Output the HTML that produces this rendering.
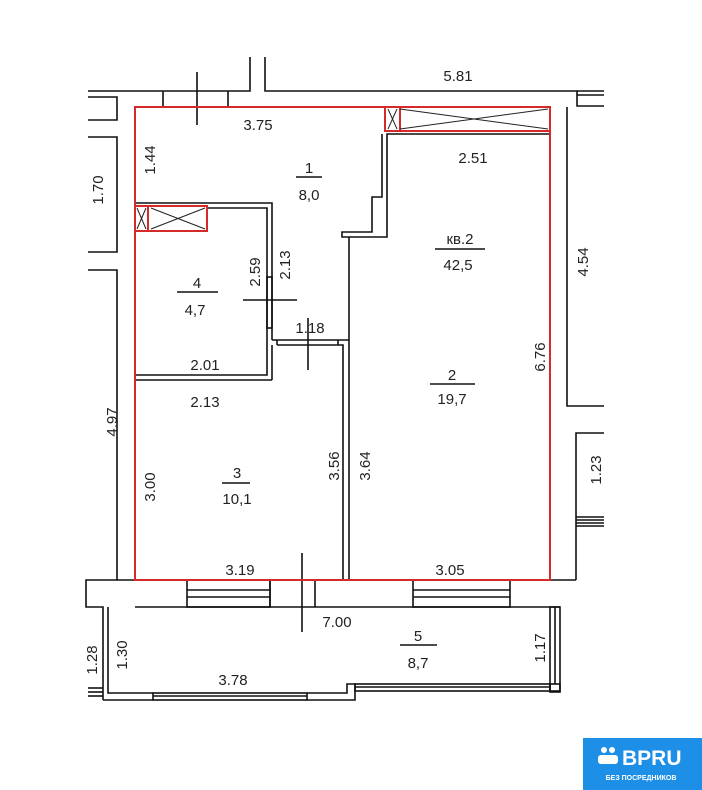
<!DOCTYPE html>
<html><head><meta charset="utf-8"><style>
html,body{margin:0;padding:0;background:#fff;width:702px;height:790px;overflow:hidden}
svg{display:block}
text{font-family:"Liberation Sans",Arial,sans-serif;font-size:15px;fill:#222}
</style></head><body>
<svg width="702" height="790" viewBox="0 0 702 790" xmlns="http://www.w3.org/2000/svg">
<g stroke="#111" stroke-width="1.6" fill="none">
<polyline points="88,91 250,91 250,57"/>
<polyline points="265,57 265,91 577,91 577,106 604,106"/>
<line x1="577" y1="95" x2="604" y2="95"/>
<line x1="577" y1="91" x2="604" y2="91"/>
<polyline points="88,97 117,97 117,120 88,120"/>
<polyline points="88,137 117,137 117,252 88,252"/>
<line x1="163" y1="91" x2="163" y2="106"/><line x1="228" y1="91" x2="228" y2="106"/>
<polyline points="88,270 117,270 117,580 86,580 86,607 103,607 103,700"/>
<polyline points="567,107 567,406 604,406"/>
<polyline points="604,433 576,433 576,580"/>
<line x1="576" y1="517" x2="604" y2="517"/><line x1="576" y1="520" x2="604" y2="520"/><line x1="576" y1="523" x2="604" y2="523"/><line x1="576" y1="526" x2="604" y2="526"/>
<polyline points="135,203 272,203 272,340"/>
<polyline points="207,208 267,208 267,375 135,375"/>
<line x1="135" y1="380" x2="272" y2="380"/><line x1="272" y1="345" x2="272" y2="380"/>
<rect x="267" y="277" width="5" height="51"/>
<polyline points="272,340 349,340"/>
<polyline points="277,345 343,345 343,580"/>
<line x1="277" y1="340" x2="277" y2="345"/><line x1="338" y1="340" x2="338" y2="345"/>
<line x1="349" y1="237" x2="349" y2="580"/>
<polyline points="349,237 342,237 342,232 372,232 372,197 382,197 382,134"/>
<polyline points="349,237 387,237 387,134 550,134"/>
<line x1="135" y1="607" x2="560" y2="607"/>
<rect x="187" y="580" width="83" height="27"/><line x1="187" y1="590" x2="270" y2="590"/><line x1="187" y1="597" x2="270" y2="597"/>
<rect x="413" y="580" width="97" height="27"/><line x1="413" y1="590" x2="510" y2="590"/><line x1="413" y1="597" x2="510" y2="597"/>
<line x1="315" y1="580" x2="315" y2="607"/><line x1="270" y1="580" x2="270" y2="607"/>
<line x1="117" y1="580" x2="135" y2="580"/><line x1="550" y1="580" x2="576" y2="580"/>
<polyline points="108,607 108,693 153,693"/>
<line x1="103" y1="700" x2="153" y2="700"/>
<rect x="153" y="693" width="154" height="7"/><line x1="153" y1="696" x2="307" y2="696"/>
<polyline points="307,700 355,700 355,684 347,684 347,693 307,693"/>
<rect x="355" y="684" width="195" height="7"/><line x1="355" y1="687" x2="550" y2="687"/>
<rect x="550" y="607" width="10" height="84"/><line x1="555" y1="607" x2="555" y2="684"/>
<rect x="550" y="684" width="10" height="8"/>
<line x1="88" y1="688" x2="103" y2="688"/><line x1="88" y1="692" x2="103" y2="692"/><line x1="88" y1="696" x2="103" y2="696"/>
<line x1="197" y1="72" x2="197" y2="125"/>
<line x1="243" y1="300" x2="297" y2="300"/>
<line x1="308" y1="318" x2="308" y2="370"/>
<line x1="302" y1="553" x2="302" y2="632"/>
<line x1="296" y1="177" x2="322" y2="177"/>
<line x1="435" y1="249" x2="485" y2="249"/>
<line x1="177" y1="292" x2="218" y2="292"/>
<line x1="430" y1="384" x2="475" y2="384"/>
<line x1="222" y1="483" x2="250" y2="483"/>
<line x1="400" y1="645" x2="437" y2="645"/>
</g>
<g stroke="#d42a2a" stroke-width="2" fill="none">
<polyline points="385,107 135,107 135,580 550,580 550,107 385,107"/>
<rect x="385" y="107" width="165" height="24"/><line x1="400" y1="107" x2="400" y2="131"/>
<rect x="135" y="206" width="72" height="25"/><line x1="148" y1="206" x2="148" y2="231"/>
</g>
<g stroke="#222" stroke-width="1" fill="none">
<line x1="400" y1="109" x2="548" y2="129"/><line x1="400" y1="129" x2="548" y2="109"/>
<line x1="388" y1="109" x2="397" y2="129"/><line x1="388" y1="129" x2="397" y2="109"/>
<line x1="151" y1="208" x2="205" y2="229"/><line x1="151" y1="229" x2="205" y2="208"/>
<line x1="137" y1="208" x2="146" y2="229"/><line x1="137" y1="229" x2="146" y2="208"/>
</g>
<g text-anchor="middle">
<text x="458" y="81">5.81</text>
<text x="258" y="130">3.75</text>
<text x="309" y="173">1</text><text x="309" y="200">8,0</text>
<text x="473" y="163">2.51</text>
<text x="460" y="244" font-size="17">кв.2</text><text x="458" y="270" font-size="17">42,5</text>
<text x="197" y="288">4</text><text x="195" y="315">4,7</text>
<text x="310" y="333">1.18</text>
<text x="205" y="370">2.01</text>
<text x="205" y="407">2.13</text>
<text x="452" y="380">2</text><text x="452" y="404">19,7</text>
<text x="237" y="478">3</text><text x="237" y="504">10,1</text>
<text x="240" y="575">3.19</text>
<text x="450" y="575">3.05</text>
<text x="337" y="627">7.00</text>
<text x="418" y="641">5</text><text x="418" y="668">8,7</text>
<text x="233" y="685">3.78</text>
<text transform="translate(155,160) rotate(-90)">1.44</text>
<text transform="translate(103,190) rotate(-90)">1.70</text>
<text transform="translate(588,262) rotate(-90)">4.54</text>
<text transform="translate(260,272) rotate(-90)">2.59</text>
<text transform="translate(290,265) rotate(-90)">2.13</text>
<text transform="translate(117,422) rotate(-90)">4.97</text>
<text transform="translate(545,357) rotate(-90)">6.76</text>
<text transform="translate(155,487) rotate(-90)">3.00</text>
<text transform="translate(339,466) rotate(-90)">3.56</text>
<text transform="translate(370,466) rotate(-90)">3.64</text>
<text transform="translate(601,470) rotate(-90)">1.23</text>
<text transform="translate(97,660) rotate(-90)">1.28</text>
<text transform="translate(127,655) rotate(-90)">1.30</text>
<text transform="translate(545,648) rotate(-90)">1.17</text>
</g>
<rect x="583" y="738" width="119" height="52" fill="#1e8fe6"/>
<circle cx="604" cy="750" r="3" fill="#fff"/><circle cx="612" cy="750" r="3" fill="#fff"/>
<rect x="598" y="755" width="20" height="9" rx="3" fill="#fff"/>
<text x="622" y="765" style="font-size:21px;fill:#fff;font-weight:bold">BPRU</text>
<text x="641" y="780" text-anchor="middle" style="font-size:7px;fill:#fff;font-weight:bold">БЕЗ ПОСРЕДНИКОВ</text>
</svg>
</body></html>
